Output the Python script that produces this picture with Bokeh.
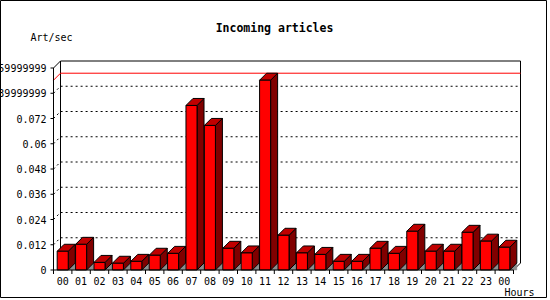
from bokeh.plotting import figure
from bokeh.models import Range1d, ColumnDataSource
from bokeh.core.properties import value
from bokeh.embed import file_html
from bokeh.resources import INLINE

# ---------------- data ----------------
hours = ["00", "01", "02", "03", "04", "05", "06", "07", "08", "09", "10", "11",
         "12", "13", "14", "15", "16", "17", "18", "19", "20", "21", "22", "23", "00"]
rates = [0.0089, 0.0122, 0.0036, 0.0032, 0.0041, 0.0070, 0.0079, 0.0782, 0.0687,
         0.0103, 0.0081, 0.0902, 0.0165, 0.0081, 0.0074, 0.0041, 0.0041, 0.0103,
         0.0079, 0.0184, 0.0089, 0.0089, 0.0179, 0.0137, 0.0108]
y_ticks = [0, 0.012, 0.024, 0.036, 0.048, 0.06, 0.072, 0.084, 0.096]
y_tick_labels = ["0", "0.012", "0.024", "0.036", "0.048", "0.06", "0.072",
                 "0.0839999999", "0.0959999999"]
title = "Incoming articles"
y_title = "Art/sec"
x_title = "Hours"

# ---------------- geometry (pixels) ----------------
W, H = 547, 298
PX_X = 18.4          # pixels per category
X0 = 53.0            # pixel x of the front y axis
BASE_PX = 269.5      # pixel y (from top) of value 0
PX_Y = 25.25 / 0.012 # pixels per unit value
DEPTH = 7.0          # 3-D depth in pixels
BAR_FRAC = 0.6

DX = DEPTH / PX_X
DY = DEPTH / PX_Y
N = len(rates)
ymax = y_ticks[-1]

def px2x(px):
    return (px - X0) / PX_X

def py2y(py):
    return (BASE_PX - py) / PX_Y

p = figure(width=W, height=H, output_backend="svg", toolbar_location=None,
           x_range=Range1d(px2x(0), px2x(W)), y_range=Range1d(py2y(H), py2y(0)),
           min_border=0, x_axis_location=None, y_axis_location=None)
p.grid.visible = False
p.outline_line_color = "black"
p.background_fill_color = "white"
p.border_fill_color = "white"

# ---------------- back wall grid ----------------
grid_vals = y_ticks[1:-1]
for t in grid_vals:
    p.line([0, DX, N + DX], [t, t + DY, t + DY], line_color="black",
           line_width=1, line_dash="2 3")

# back wall frame
p.line([0, DX, N + DX, N + DX, N], [ymax, ymax + DY, ymax + DY, DY, 0],
       line_color="black", line_width=1)
p.line([DX, DX], [DY, ymax + DY], line_color="black", line_width=1)

# max line
m = max(rates)
p.line([0, DX, N + DX], [m, m + DY, m + DY], line_color="red", line_width=1)

# ---------------- bars ----------------
fx, fy, tx, ty, sx, sy, shx, shy = [], [], [], [], [], [], [], []
for i, v in enumerate(rates):
    xl = i + (1 - BAR_FRAC) / 2
    xr = xl + BAR_FRAC
    fx.append([xl, xr, xr, xl]); fy.append([0, 0, v, v])
    tx.append([xl, xr, xr + DX, xl + DX]); ty.append([v, v, v + DY, v + DY])
    sx.append([xr, xr + DX, xr + DX, xr]); sy.append([0, DY, v + DY, v])
    shx.append([xr, xr + DX, xr + DX]); shy.append([0, 0, DY])

p.patches(shx, shy, fill_color="#8c8c8c", line_color="#8c8c8c", line_width=0.5)
p.patches(sx, sy, fill_color="#800000", line_color="black", line_width=1)
p.patches(tx, ty, fill_color="#c00000", line_color="black", line_width=1)
p.patches(fx, fy, fill_color="#ff0000", line_color="black", line_width=1)

# ---------------- front axes ----------------
p.line([0, 0], [0, ymax], line_color="black", line_width=1)
p.line([0, N], [0, 0], line_color="black", line_width=1)
p.segment(x0=[px2x(X0 - 3)] * len(y_ticks), y0=y_ticks, x1=[0] * len(y_ticks),
          y1=y_ticks, line_color="black", line_width=1)
p.segment(x0=list(range(N + 1)), y0=[0] * (N + 1), x1=list(range(N + 1)),
          y1=[py2y(BASE_PX + 4)] * (N + 1), line_color="black", line_width=1)

font = value("DejaVu Sans Mono")
p.text(x=[px2x(46)] * len(y_ticks), y=y_ticks, text=y_tick_labels, text_font=font,
       text_font_size="10px", text_align="right", text_baseline="middle",
       text_color="black")
p.text(x=[i + 0.5 for i in range(N)], y=[py2y(280.5)] * N, text=hours,
       text_font=font, text_font_size="10px", text_align="center",
       text_baseline="middle", text_color="black")
p.text(x=[px2x(504)], y=[py2y(292)], text=[x_title], text_font=font,
       text_font_size="10px", text_align="left", text_baseline="middle",
       text_color="black")
p.text(x=[px2x(30)], y=[py2y(37)], text=[y_title], text_font=font,
       text_font_size="10px", text_align="left", text_baseline="middle",
       text_color="black")
p.text(x=[px2x(274)], y=[py2y(27)], text=[title], text_font=font,
       text_font_size="11.5px", text_font_style="bold", text_align="center",
       text_baseline="middle", text_color="black")

open("out.html", "w").write(file_html(p, INLINE))
